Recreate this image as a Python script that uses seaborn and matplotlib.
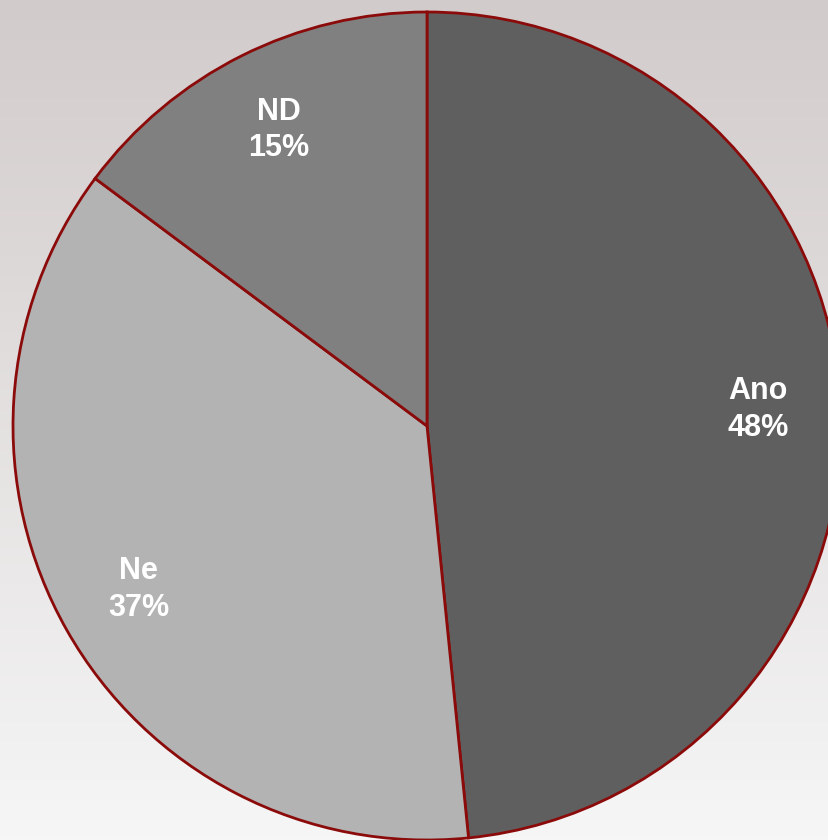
import numpy as np
import matplotlib
matplotlib.use("Agg")
import matplotlib.pyplot as plt
import seaborn as sns

# data
labels = ["Ano", "Ne", "ND"]
values = [48.4, 36.8, 14.8]
colors = ["#5f5f5f", "#b3b3b3", "#808080"]

sns.set_style("white")
plt.rcParams["font.family"] = ["Liberation Sans", "DejaVu Sans"]

fig = plt.figure(figsize=(8.29, 8.40), dpi=100)
ax = fig.add_axes([0, 0, 1, 1])

# radius in pixels and centre of pie
r_px = 414
cx, cy = 427, 426
x0, x1 = -cx / r_px, (829 - cx) / r_px
y0, y1 = -(840 - cy) / r_px, cy / r_px

# background gradient
grad = np.linspace(0, 1, 256).reshape(-1, 1)
ax.imshow(grad, extent=[x0, x1, y0, y1],
          cmap=sns.blend_palette(["#d2cbcb", "#f6f6f6"], as_cmap=True),
          aspect="auto", zorder=0, origin="upper")

name_iter = iter(labels)
def fmt(p):
    return f"{next(name_iter)}\n{p:.0f}%"

wedges, _, texts = ax.pie(values, colors=colors, startangle=90, counterclock=False,
                          autopct=fmt, pctdistance=0.8, radius=1,
                          wedgeprops=dict(edgecolor="#8b0a0a", linewidth=2),
                          textprops=dict(color="white", fontsize=22, fontweight="bold",
                                         linespacing=1.3))
for w in wedges:
    w.set_zorder(2)
for t in texts:
    t.set_zorder(3)

ax.set_xlim(x0, x1)
ax.set_ylim(y0, y1)
ax.set_aspect("auto")
ax.axis("off")

fig.savefig("out.png", dpi=100)
